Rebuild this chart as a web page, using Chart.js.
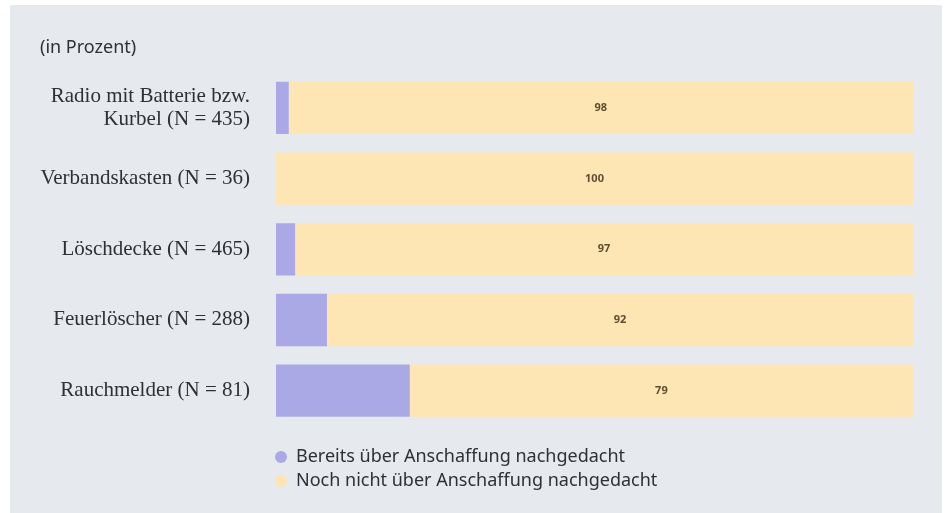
<!DOCTYPE html>
<html>
<head>
<meta charset="utf-8">
<script src="https://cdn.jsdelivr.net/npm/chart.js@4.4.1/dist/chart.umd.min.js"></script>
<style>
  html, body { margin: 0; padding: 0; background: #fff; }
  .panel {
    position: absolute; left: 10px; top: 5px; width: 932px; height: 508px;
    background: #e6e9ed;
  }
  .legend {
    position: absolute; top: 438px;
    font-family: "Noto Sans", sans-serif; font-size: 18px; color: #2f3033;
    line-height: 24px;
  }
  .legend span.dot {
    display: inline-block; width: 12px; height: 12px; border-radius: 50%;
    margin-right: 9px; vertical-align: -1px;
  }
</style>
</head>
<body>
<div class="panel">
  <canvas id="chart"></canvas>
  <div class="legend" id="legend"></div>
</div>
<script>
// categories, top to bottom
const categories = [
  ['Radio mit Batterie bzw.', 'Kurbel (N = 435)'],
  'Verbandskasten (N = 36)',
  'Löschdecke (N = 465)',
  'Feuerlöscher (N = 288)',
  'Rauchmelder (N = 81)'
]
const seriesNames = [
  'Bereits über Anschaffung nachgedacht',
  'Noch nicht über Anschaffung nachgedacht'
]
const alreadyThought = [2, 0, 3, 8, 21]
const notYetThought = [98, 100, 97, 92, 79]
const colors = ['#aaa9e5', '#fde5b4']

// writes the numbers into the yellow segments
const valueLabels = {
  id: 'valueLabels',
  afterDatasetsDraw (chart) {
    const ctx = chart.ctx
    const meta = chart.getDatasetMeta(1)
    ctx.save()
    ctx.font = 'bold 11px "Noto Sans", sans-serif'
    ctx.fillStyle = '#5e4e30'
    ctx.textAlign = 'center'
    ctx.textBaseline = 'middle'
    meta.data.forEach((bar, i) => {
      const p = bar.getCenterPoint()
      ctx.fillText(String(notYetThought[i]), p.x, p.y)
    })
    ctx.restore()
  }
}

const ctx = document.getElementById('chart').getContext('2d')
const chart = new Chart(ctx, {
  type: 'bar',
  data: {
    labels: categories,
    datasets: [
      { label: seriesNames[0], data: alreadyThought, backgroundColor: colors[0] },
      { label: seriesNames[1], data: notYetThought, backgroundColor: colors[1] }
    ]
  },
  options: {
    indexAxis: 'y',
    responsive: true,
    maintainAspectRatio: false,
    animation: false,
    layout: { padding: { left: 30, right: 29, top: 0, bottom: 87 } },
    datasets: { bar: { barPercentage: 0.74, categoryPercentage: 1 } },
    scales: {
      x: { stacked: true, min: 0, max: 100, display: false },
      y: {
        stacked: true,
        grid: { display: false },
        border: { display: false },
        ticks: {
          padding: 18,
          color: '#2f3033',
          font: { family: '"Liberation Serif", serif', size: 21, lineHeight: 1.1 }
        },
        afterFit (scale) { scale.width = 236 }
      }
    },
    plugins: {
      legend: { display: false },
      tooltip: { enabled: false },
      title: {
        display: true,
        text: '(in Prozent)',
        align: 'start',
        color: '#2f3033',
        font: { family: '"Noto Sans", sans-serif', size: 18, weight: 'normal' },
        padding: { top: 32, bottom: 14 }
      }
    }
  },
  plugins: [valueLabels]
})

// legend below the bars, aligned with the chart area
const legend = document.getElementById('legend')
legend.style.left = (chart.chartArea.left - 1) + 'px'
seriesNames.forEach((name, i) => {
  const row = document.createElement('div')
  row.innerHTML = '<span class="dot" style="background:' + colors[i] + '"></span>' + name
  legend.appendChild(row)
})
</script>
</body>
</html>
